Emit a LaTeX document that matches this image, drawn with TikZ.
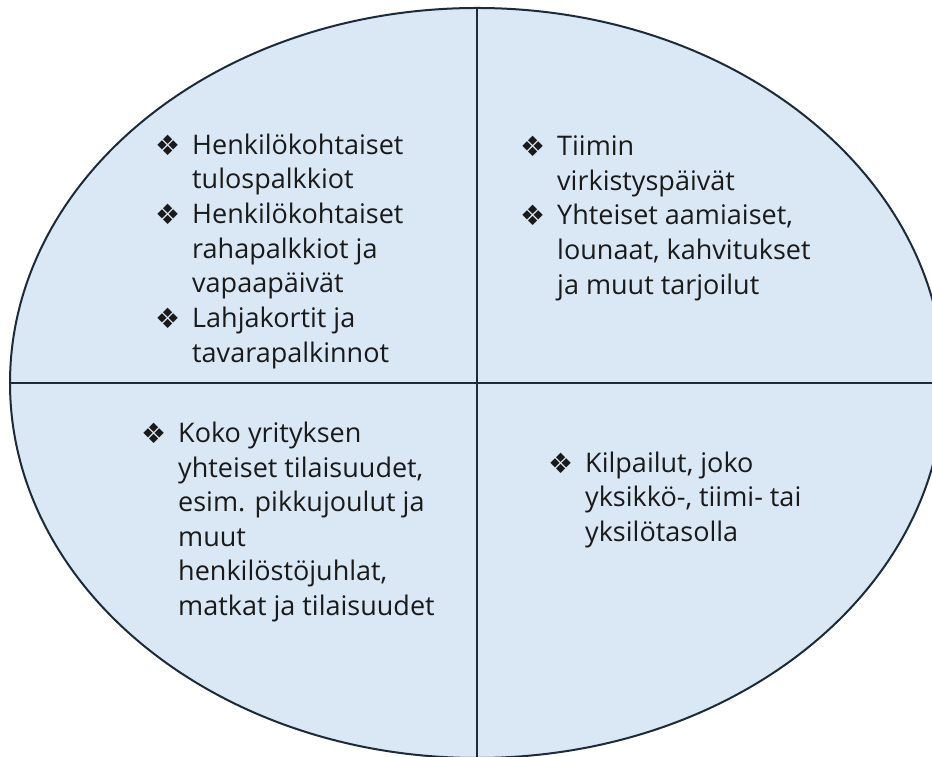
\documentclass[tikz,border=0pt]{standalone}
\usepackage{fontspec}
\setmainfont{Open Sans}
\newfontfamily\bulletfont{DejaVu Sans}
\usetikzlibrary{shapes.geometric}
\definecolor{fillblue}{HTML}{DAE8F5}
\definecolor{edgecol}{HTML}{1C2B3A}
\definecolor{txtcol}{HTML}{1A1A1A}
\newcommand{\bul}{\makebox[0pt][r]{\raisebox{-1pt}{\bulletfont\fontsize{28}{28}\selectfont ❖}\hspace{12pt}}}
\tikzset{
  oval/.style={ellipse, draw=edgecol, line width=2pt, fill=fillblue, inner sep=0pt},
  divider/.style={draw=edgecol, line width=1.6pt},
  itemtext/.style={anchor=base west, inner sep=0pt, text=txtcol}
}
\begin{document}
\begin{tikzpicture}[x=1pt,y=1pt]
\useasboundingbox (0,0) rectangle (932,757);
\clip (0,0) rectangle (932,757);
\node[oval, minimum width=934pt, minimum height=750pt] (oval) at (477,374) {};
\draw[divider] (oval.north) -- (oval.south);
\draw[divider] (oval.west) -- (oval.east);
\node[itemtext] (tl) at (192,757-154.3) {\parbox[t]{300pt}{\fontsize{27}{34.65}\selectfont
\bul Henkilökohtaiset\\
tulospalkkiot\\
\bul Henkilökohtaiset\\
rahapalkkiot ja\\
vapaapäivät\\
\bul Lahjakortit ja\\
tavarapalkinnot}};
\node[itemtext] (tr) at (557,757-155.7) {\parbox[t]{300pt}{\fontsize{27}{34.65}\selectfont
\bul Tiimin\\
virkistyspäivät\\
\bul Yhteiset aamiaiset,\\
lounaat, kahvitukset\\
ja muut tarjoilut}};
\node[itemtext] (bl) at (178,757-442.7) {\parbox[t]{300pt}{\fontsize{27}{34.5}\selectfont
\bul Koko yrityksen\\
yhteiset tilaisuudet,\\
esim. pikkujoulut ja\\
muut\\
henkilöstöjuhlat,\\
matkat ja tilaisuudet}};
\node[itemtext] (br) at (585,757-472.3) {\parbox[t]{300pt}{\fontsize{27}{34.65}\selectfont
\bul Kilpailut, joko\\
yksikkö-, tiimi- tai\\
yksilötasolla}};
\end{tikzpicture}
\end{document}
